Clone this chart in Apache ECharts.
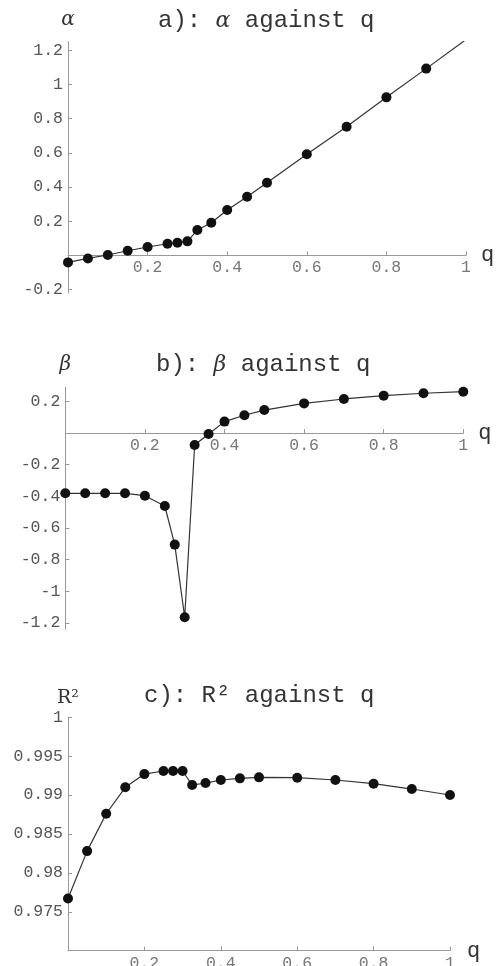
<!DOCTYPE html>
<html>
<head>
<meta charset="utf-8">
<script src="https://cdn.jsdelivr.net/npm/echarts@6/dist/echarts.min.js"></script>
<style>
  html, body { margin: 0; padding: 0; background: #fff; }
  #main { width: 496px; height: 966px; }
</style>
</head>
<body>
<div id="main"></div>
<script>
  // q values shared by all three panels
  const qValues = [0, 0.05, 0.1, 0.15, 0.2, 0.25, 0.275, 0.3, 0.325, 0.36, 0.4, 0.45, 0.5, 0.6, 0.7, 0.8, 0.9, 1];
  // a) alpha against q (last point lies above the plot range, clipped)
  const alphaValues = [-0.041, -0.018, 0.002, 0.027, 0.049, 0.068, 0.074, 0.082, 0.148, 0.191, 0.265, 0.343, 0.425, 0.591, 0.752, 0.924, 1.092, 1.262];
  // b) beta against q
  const betaValues = [-0.381, -0.381, -0.381, -0.381, -0.396, -0.461, -0.705, -1.164, -0.076, -0.006, 0.072, 0.112, 0.145, 0.187, 0.215, 0.236, 0.251, 0.261];
  // c) R^2 against q
  const r2Values = [0.9767, 0.9828, 0.9876, 0.9910, 0.9927, 0.9931, 0.9931, 0.9931, 0.9913, 0.99155, 0.99194, 0.99215, 0.99228, 0.99224, 0.99194, 0.99147, 0.99078, 0.99001];

  // tick labels
  const qTicks = [0.2, 0.4, 0.6, 0.8, 1];
  const alphaTicks = [-0.2, 0.2, 0.4, 0.6, 0.8, 1, 1.2];
  const betaTicks = [-1.2, -1, -0.8, -0.6, -0.4, -0.2, 0.2];
  const r2Ticks = [0.975, 0.98, 0.985, 0.99, 0.995, 1];

  const mono = "'Liberation Mono', 'DejaVu Sans Mono', monospace";
  const serif = "'DejaVu Serif', 'Liberation Serif', serif";

  const grids = [
    { left: 68, top: 41.6, width: 398, height: 251.4 },
    { left: 65.3, top: 387.1, width: 398, height: 242.2 },
    { left: 68, top: 717.3, width: 382, height: 233.4 }
  ];

  function pairs(ys) {
    return qValues.map((q, i) => [q, ys[i]]);
  }

  function xAxisFor(idx, gap) {
    return {
      type: 'value', gridIndex: idx, min: 0, max: 1, position: 'bottom', offset: 0,
      name: 'q', nameLocation: 'end', nameGap: gap,
      nameTextStyle: { fontFamily: mono, fontSize: 22, color: '#333' },
      axisLine: { onZero: false, lineStyle: { color: '#999', width: 1 } },
      axisTick: { show: true, inside: true, length: 4, customValues: qTicks, lineStyle: { color: '#999' } },
      axisLabel: { customValues: qTicks, fontFamily: mono, fontSize: 16.5, color: '#777', margin: 4,
        formatter: v => String(v) },
      splitLine: { show: false }
    };
  }

  function yAxisFor(idx, min, max, ticks, name, nameGap) {
    return {
      type: 'value', gridIndex: idx, min: min, max: max,
      name: name, nameLocation: 'end', nameGap: nameGap,
      nameTextStyle: { fontFamily: serif, fontStyle: 'italic', fontSize: 20, color: '#333' },
      axisLine: { show: true, onZero: false, lineStyle: { color: '#999', width: 1 } },
      axisTick: { show: true, inside: true, length: 4, customValues: ticks, lineStyle: { color: '#999' } },
      axisLabel: { customValues: ticks, fontFamily: mono, fontSize: 16.5, color: '#555', margin: 5,
        formatter: v => String(v) },
      splitLine: { show: false }
    };
  }

  function seriesFor(idx, ys) {
    return {
      type: 'line', xAxisIndex: idx, yAxisIndex: idx,
      data: pairs(ys), clip: true,
      symbol: 'circle', symbolSize: 10,
      itemStyle: { color: '#111' },
      lineStyle: { color: '#333', width: 1.2 }
    };
  }

  const titleStyle = { fontFamily: mono, fontSize: 24, fontWeight: 'normal', color: '#333',
    rich: {
      g: { fontFamily: serif, fontStyle: 'italic', fontSize: 22, color: '#333' },
      t: { fontFamily: mono, fontSize: 24, color: '#333' }
    } };

  let myChart = echarts.init(document.getElementById('main'));
  let option = {
    backgroundColor: '#fff',
    animation: false,
    title: [
      { text: '{t|a): }{g|α}{t| against q}', left: 158, top: 9, padding: 0, textStyle: titleStyle },
      { text: '{t|b): }{g|β}{t| against q}', left: 156, top: 353, padding: 0, textStyle: titleStyle },
      { text: '{t|c): R² against q}', left: 144, top: 684, padding: 0, textStyle: titleStyle }
    ],
    grid: grids.map(g => Object.assign({ outerBoundsMode: 'none' }, g)),
    xAxis: [xAxisFor(0, 15), xAxisFor(1, 15), xAxisFor(2, 17)],
    yAxis: [
      yAxisFor(0, -0.22, 1.25, alphaTicks, 'α', 12),
      yAxisFor(1, -1.24, 0.29, betaTicks, 'β', 12),
      Object.assign(yAxisFor(2, 0.97, 1, r2Ticks, 'R²', 10), {
        nameTextStyle: { fontFamily: serif, fontSize: 19, color: '#333' }
      })
    ],
    series: [seriesFor(0, alphaValues), seriesFor(1, betaValues), seriesFor(2, r2Values)]
  };
  myChart.setOption(option);

  // panels a) and b): move the q axis (line, ticks and labels) up to y = 0
  let offsets = [0, 1].map(i => {
    let zeroY = myChart.convertToPixel({ yAxisIndex: i }, 0);
    return zeroY - (grids[i].top + grids[i].height);
  });
  myChart.setOption({
    xAxis: [{ offset: offsets[0] }, { offset: offsets[1] }, {}]
  });
</script>
</body>
</html>
